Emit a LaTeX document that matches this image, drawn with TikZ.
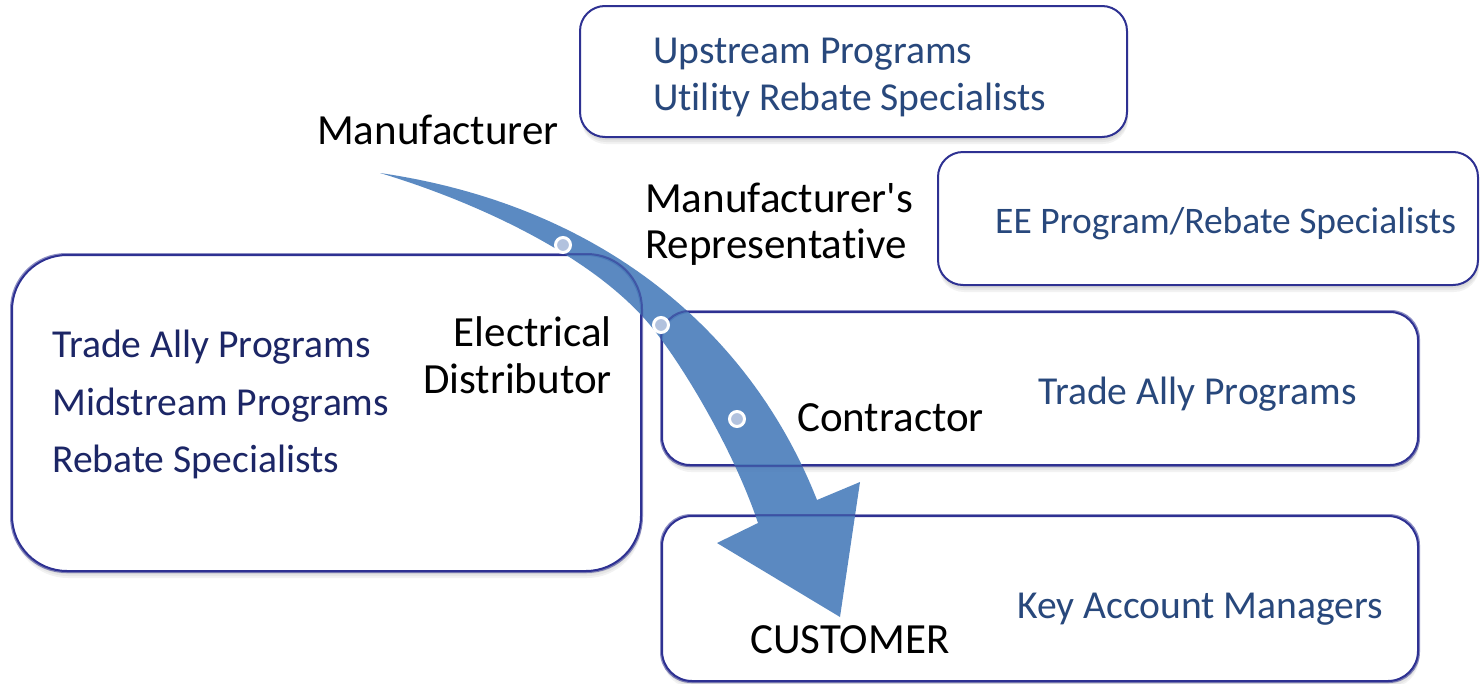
\documentclass[tikz,border=0pt]{standalone}
\usepackage{fontspec}
\newfontfamily\carl{Carlito}[Ligatures=NoCommon]
\usetikzlibrary{shadows}
\definecolor{bord}{RGB}{46,49,146}
\definecolor{arrowblue}{RGB}{79,129,189}
\definecolor{navytext}{RGB}{28,38,102}
\definecolor{steeltext}{RGB}{40,72,124}
\definecolor{dotfill}{RGB}{178,194,222}
\tikzset{
  box/.style={draw=bord, line width=2pt, fill=white, rounded corners=#1, inner sep=0pt,
    general shadow={fill=black, opacity=0.05, shadow xshift=1pt, shadow yshift=-7pt},
    general shadow={fill=black, opacity=0.05, shadow xshift=1pt, shadow yshift=-5pt},
    general shadow={fill=black, opacity=0.05, shadow xshift=0.5pt, shadow yshift=-3pt}},
  boxline/.style={draw=bord, line width=2pt, rounded corners=#1, opacity=0.55},
  lab/.style={font=\carl\fontsize{43}{46}\selectfont, inner sep=0pt, text=black},
  prog/.style={font=\carl\fontsize{39.6}{47}\selectfont, inner sep=0pt, text=steeltext},
  progn/.style={font=\carl\fontsize{39.6}{47}\selectfont, inner sep=0pt, text=navytext},
  dot/.style={circle, fill=dotfill, draw=white, line width=3pt, minimum size=15pt, inner sep=0pt}
}
\begin{document}
\begin{tikzpicture}[x=1pt,y=-1pt]
\useasboundingbox (0,0) rectangle (1480,683);
% boxes
\node[box=25pt, minimum width=547pt, minimum height=131pt] (up) at (853.5,71.5) {};
\node[box=25pt, minimum width=540pt, minimum height=133pt] (ee) at (1208,218.5) {};
\node[box=55pt, minimum width=629pt, minimum height=316pt] (left) at (326.5,413) {};
\node[box=28pt, minimum width=756pt, minimum height=153pt] (con) at (1040,388.5) {};
\node[box=30pt, minimum width=756pt, minimum height=165pt] (cus) at (1040,598.5) {};
% arrow
\coordinate (tail) at (380,173);
\coordinate (ro) at (817,500);
\coordinate (rs) at (860,482);
\coordinate (tip) at (840,617);
\coordinate (ls) at (717,543);
\coordinate (li) at (758,523);
\coordinate (lm) at (650,325);
\fill[arrowblue, opacity=0.93] (tail) .. controls (600,205) and (750,330) .. (ro) -- (rs) -- (tip) -- (ls) -- (li)
  .. controls (733,448) and (680,361) .. (lm) .. controls (590,253) and (470,200) .. (tail) -- cycle;
% box lines seen through the arrow
\draw[boxline=55pt] (left.north west) rectangle (left.south east);
\draw[boxline=28pt] (con.north west) rectangle (con.south east);
\draw[boxline=30pt] (cus.north west) rectangle (cus.south east);
% dots
\node[dot] (d1) at (563,245) {};
\node[dot] (d2) at (661,325) {};
\node[dot] (d3) at (737,419) {};
% labels
\node[lab, anchor=base west] (manu) at (317,144) {Manufacturer};
\node[lab, anchor=base west] (rep1) at (645,212) {Manufacturer's};
\node[lab, anchor=base west] (rep2) at (645,258) {Representative};
\node[lab, anchor=base east] (ed1) at (612,346) {Electrical};
\node[lab, anchor=base east] (ed2) at (612,393) {Distributor};
\node[lab, anchor=base west] (cont) at (797,431) {Contractor};
\node[lab, anchor=base west] (cust) at (750,653) {CUSTOMER};
% programs
\node[prog, anchor=base west] (p1) at (653,63) {Upstream Programs};
\node[prog, anchor=base west] (p2) at (653,110) {Utility Rebate Specialists};
\node[prog, anchor=base west, font=\carl\fontsize{37.5}{45}\selectfont] (p3) at (995,233) {EE Program/Rebate Specialists};
\node[prog, anchor=base west] (p4) at (1038,404) {Trade Ally Programs};
\node[prog, anchor=base west] (p5) at (1017,618) {Key Account Managers};
\node[progn, anchor=base west] (p6) at (52,357) {Trade Ally Programs};
\node[progn, anchor=base west] (p7) at (52,415) {Midstream Programs};
\node[progn, anchor=base west] (p8) at (52,472) {Rebate Specialists};
\end{tikzpicture}
\end{document}
